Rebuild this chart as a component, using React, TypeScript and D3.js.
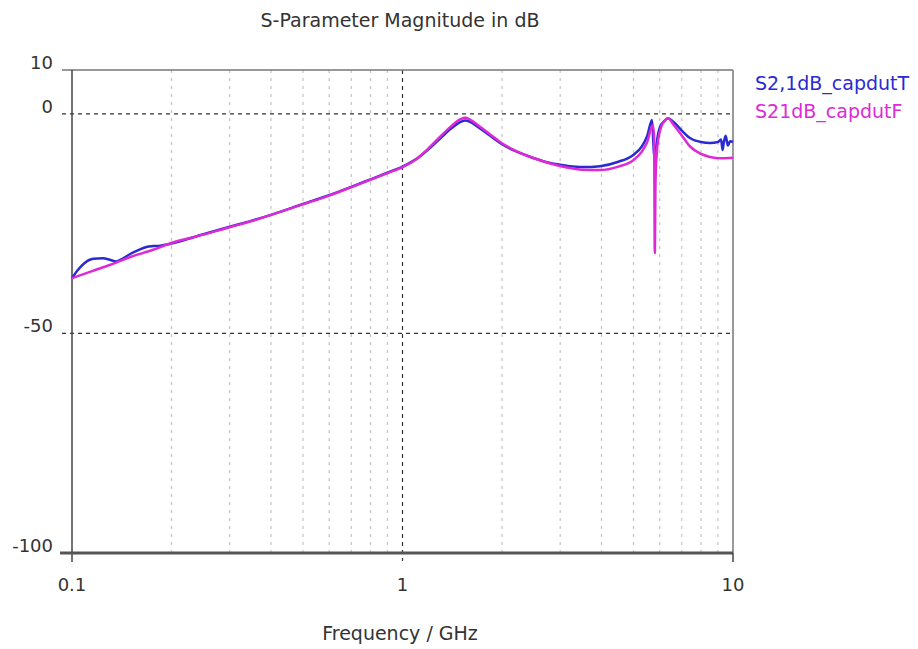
import React from 'react';
import * as d3 from 'd3';

// S21 magnitude (dB) vs frequency (GHz)
const freqT = [0.1, 0.104, 0.109, 0.116, 0.124, 0.13, 0.136, 0.142, 0.15, 0.16, 0.168, 0.176, 0.185, 0.2, 0.25, 0.3, 0.35, 0.4, 0.5, 0.6, 0.7, 0.8, 0.9, 1.0, 1.1, 1.2, 1.3, 1.4, 1.5, 1.55, 1.6, 1.7, 1.85, 2.0, 2.2, 2.5, 2.8, 3.14, 3.5, 3.96, 4.5, 4.98, 5.3, 5.5, 5.69, 5.74, 5.78, 5.84, 5.92, 6.01, 6.2, 6.36, 6.6, 7.0, 7.41, 8.0, 8.52, 9.0, 9.2, 9.3, 9.38, 9.5, 9.65, 9.8, 10];
const dbT = [-37.4, -35.6, -34.0, -33.0, -32.9, -33.2, -33.6, -33.0, -31.9, -30.9, -30.3, -30.1, -30.0, -29.5, -27.4, -25.7, -24.3, -23.0, -20.5, -18.5, -16.6, -14.9, -13.4, -12.0, -10.3, -8.0, -5.6, -3.4, -1.8, -1.5, -1.8, -3.1, -5.1, -6.9, -8.5, -10.1, -11.2, -11.8, -12.1, -11.9, -10.9, -9.4, -7.4, -5.0, -1.4, -6.5, -10.0, -8.0, -5.0, -3.0, -1.6, -1.0, -1.8, -3.8, -5.5, -6.4, -6.6, -6.4, -5.8, -8.2, -6.5, -5.0, -7.2, -6.2, -6.4];

const freqF = [0.1, 0.115, 0.13, 0.15, 0.175, 0.2, 0.25, 0.3, 0.35, 0.4, 0.5, 0.6, 0.7, 0.8, 0.9, 1.0, 1.1, 1.2, 1.3, 1.4, 1.5, 1.55, 1.6, 1.7, 1.85, 2.0, 2.2, 2.5, 2.8, 3.14, 3.5, 3.96, 4.5, 4.98, 5.3, 5.5, 5.72, 5.77, 5.8, 5.83, 5.88, 5.95, 6.05, 6.2, 6.36, 6.6, 7.0, 7.41, 8.0, 8.52, 9.2, 10];
const dbF = [-37.4, -35.8, -34.4, -32.6, -31.0, -29.4, -27.5, -25.8, -24.4, -23.0, -20.6, -18.6, -16.7, -15.0, -13.5, -12.1, -10.3, -7.8, -5.2, -2.9, -1.2, -0.9, -1.3, -2.7, -4.8, -6.7, -8.4, -10.1, -11.3, -12.2, -12.7, -12.8, -12.0, -10.6, -8.6, -6.4, -2.6, -5.0, -31.7, -15.0, -9.0, -5.5, -3.2, -1.6, -1.0, -2.4, -4.9, -7.4, -9.1, -9.8, -10.1, -10.0];

const series = [
  { name: 'S2,1dB_capdutT', color: '#2a2ad2', x: freqT, y: dbT },
  { name: 'S21dB_capdutF', color: '#dd2ad6', x: freqF, y: dbF },
];

const yTicks = [10, 0, -50, -100];
const xTicks = [0.1, 1, 10];
const minorX = [0.2, 0.3, 0.4, 0.5, 0.6, 0.7, 0.8, 0.9, 2, 3, 4, 5, 6, 7, 8, 9];

const W = 918;
const H = 649;
const m = { left: 72, right: 733, top: 70, bottom: 553 };
const font = 'Tahoma, "DejaVu Sans", Verdana, sans-serif';

export default function App() {
  const x = d3.scaleLog().domain([0.1, 10]).range([m.left, m.right]);
  const y = d3.scaleLinear().domain([-100, 10]).range([m.bottom, m.top]);

  return (
    <svg width={W} height={H} style={{ position: 'absolute', left: 0, top: 0, background: '#fff' }}>
      <text x={400} y={27} textAnchor="middle" fontFamily={font} fontSize={19} fill="#333">
        S-Parameter Magnitude in dB
      </text>

      {/* minor vertical grid */}
      {minorX.map(f => (
        <line key={f} x1={x(f)} x2={x(f)} y1={m.top} y2={m.bottom}
          stroke="#c4c4c4" strokeWidth={1.2} strokeDasharray="3,5" />
      ))}
      {/* major grid */}
      <line x1={x(1)} x2={x(1)} y1={m.top} y2={m.bottom + 8} stroke="#333" strokeWidth={1.2} strokeDasharray="4,4" />
      {[0, -50].map(v => (
        <line key={v} x1={m.left - 10} x2={m.right} y1={y(v)} y2={y(v)}
          stroke="#333" strokeWidth={1.2} strokeDasharray="4,4" />
      ))}

      {/* frame */}
      <line x1={m.left - 10} x2={m.right} y1={m.top} y2={m.top} stroke="#777" strokeWidth={1.5} />
      <line x1={m.right} x2={m.right} y1={m.top} y2={m.bottom} stroke="#777" strokeWidth={1.5} />
      <line x1={m.left} x2={m.left} y1={m.top} y2={m.bottom + 9} stroke="#444" strokeWidth={1.5} />
      <line x1={m.left - 12} x2={m.right} y1={m.bottom} y2={m.bottom} stroke="#555" strokeWidth={3} />
      <line x1={m.right} x2={m.right} y1={m.bottom} y2={m.bottom + 9} stroke="#444" strokeWidth={1.5} />

      {/* curves */}
      {series.map(s => {
        const path = d3.line<number>()
          .x(d => x(d))
          .y((d, i) => y(s.y[i]))
          .curve(d3.curveMonotoneX)(s.x);
        return <path key={s.name} d={path || ''} fill="none" stroke={s.color} strokeWidth={2.5} strokeLinejoin="round" />;
      })}

      {/* y tick labels */}
      {yTicks.map(t => (
        <text key={t} x={53} y={y(t) - 1} textAnchor="end"
          fontFamily={font} fontSize={18} fill="#333">{t}</text>
      ))}
      {/* x tick labels */}
      {xTicks.map(t => (
        <text key={t} x={x(t)} y={591} textAnchor="middle" fontFamily={font} fontSize={18} fill="#333">{t}</text>
      ))}
      <text x={400} y={640} textAnchor="middle" fontFamily={font} fontSize={19} fill="#333">Frequency / GHz</text>

      {/* legend */}
      {series.map((s, i) => (
        <text key={s.name} x={755} y={90 + i * 28} fontFamily={font} fontSize={19} fill={s.color}>{s.name}</text>
      ))}
    </svg>
  );
}
